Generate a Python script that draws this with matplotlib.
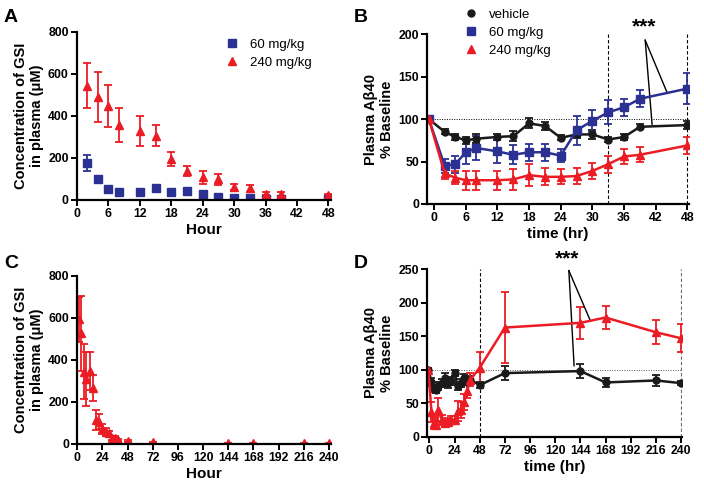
import matplotlib
matplotlib.use("Agg")
import matplotlib.pyplot as plt
from matplotlib.lines import Line2D

plt.rcParams['font.family'] = ['Liberation Sans', 'DejaVu Sans']

# ---------------- data ----------------
a_t = [2, 4, 6, 8, 12, 15, 18, 21, 24, 27, 30, 33, 36, 39, 48]
a60 = [178, 100, 51, 37, 37, 56, 40, 45, 27, 16, 8, 8, 3, 3, 3]
a60_err = [38, 15, 6, 5, 5, 6, 5, 5, 4, 3, 2, 2, 1, 1, 1]
a240 = [545, 490, 448, 358, 330, 307, 196, 138, 108, 98, 62, 56, 30, 29, 24]
a240_err = [108, 120, 100, 80, 72, 48, 32, 25, 30, 28, 14, 16, 8, 8, 5]

b_t = [-1, 2, 4, 6, 8, 12, 15, 18, 21, 24, 27, 30, 33, 36, 39, 48]
b_veh = [100, 85, 79, 75, 77, 79, 80, 95, 92, 78, 82, 82, 76, 79, 91, 93]
b_veh_err = [2, 3, 3, 4, 5, 3, 6, 6, 5, 3, 4, 5, 3, 3, 3, 5]
b60 = [100, 45, 47, 61, 66, 62, 58, 61, 61, 57, 87, 98, 108, 114, 124, 136]
b60_err = [0, 8, 10, 14, 14, 14, 11, 10, 10, 8, 17, 13, 14, 10, 10, 18]
b240 = [100, 36, 31, 28, 28, 28, 29, 34, 32, 32, 33, 39, 47, 56, 58, 69]
b240_err = [0, 7, 8, 11, 11, 11, 12, 13, 10, 9, 9, 9, 10, 9, 9, 10]

c_t = [2, 4, 6, 8, 12, 15, 18, 21, 24, 27, 30, 33, 36, 39, 48, 72, 144, 168, 216, 240]
c240 = [592, 526, 344, 307, 347, 268, 114, 106, 71, 59, 54, 30, 30, 19, 14, 8, 3, 3, 3, 3]
c240_err = [105, 178, 130, 128, 88, 62, 46, 37, 25, 15, 10, 10, 8, 5, 3, 2, 1, 1, 1, 1]

d_t = [-1, 2, 4, 6, 8, 12, 15, 18, 21, 24, 27, 30, 33, 36, 39, 48, 72, 144, 168, 216, 240]
d_veh = [100, 82, 72, 70, 75, 80, 87, 80, 83, 95, 75, 80, 88, 82, 85, 77, 95, 98, 81, 84, 80]
d_veh_err = [2, 6, 5, 5, 6, 6, 8, 7, 6, 5, 5, 6, 5, 5, 5, 5, 10, 11, 7, 8, 3]
d240 = [100, 37, 20, 18, 40, 25, 20, 22, 25, 25, 38, 40, 52, 68, 85, 103, 163, 170, 178, 156, 147]
d240_err = [0, 15, 8, 6, 18, 8, 5, 6, 6, 6, 15, 12, 12, 10, 10, 23, 53, 24, 17, 18, 21]

labels = ['vehicle', '60 mg/kg', '240 mg/kg']
BLUE = '#2b3192'
RED = '#ec1c24'
BLACK = '#1a1a1a'

W, H = 704, 487
fig = plt.figure(figsize=(W / 100, H / 100), dpi=100)

TICK_FS = 8.8
LAB_FS = 10.5
LEG_FS = 9.5


def px_axes(left, top, right, bottom):
    return fig.add_axes([left / W, 1 - bottom / H, (right - left) / W, (bottom - top) / H])


def style(ax):
    for s in ['top', 'right']:
        ax.spines[s].set_visible(False)
    for s in ['left', 'bottom']:
        ax.spines[s].set_linewidth(1.6)
    ax.tick_params(direction='out', length=4, width=1.4, labelsize=TICK_FS, pad=2)
    for lab in ax.get_xticklabels() + ax.get_yticklabels():
        lab.set_fontweight('bold')


ebkw = dict(capsize=3, elinewidth=1.3, capthick=1.3)

# ---------------- A ----------------
axA = px_axes(77, 32, 331, 200)
axA.errorbar(a_t, a60, yerr=a60_err, fmt='s', color=BLUE, ms=5.5, **ebkw)
axA.errorbar(a_t, a240, yerr=a240_err, fmt='^', color=RED, ms=5.5, **ebkw)
axA.set_xlim(0, 48.5)
axA.set_ylim(0, 800)
axA.set_xticks(range(0, 49, 6))
axA.set_yticks(range(0, 801, 200))
axA.set_xlabel('Hour', fontsize=LAB_FS + 0.5, fontweight='bold', labelpad=2)
axA.set_ylabel('Concentration of GSI\nin plasma (μM)', fontsize=LAB_FS, fontweight='bold', labelpad=3)
style(axA)
hA = [Line2D([], [], marker='s', color=BLUE, ls='none', ms=5.5),
      Line2D([], [], marker='^', color=RED, ls='none', ms=5.5)]
axA.legend(hA, labels[1:], frameon=False, fontsize=LEG_FS, loc='upper left',
           bbox_to_anchor=(220 / W, 1 - 33 / H), bbox_transform=fig.transFigure,
           handlelength=1.0, handletextpad=0.9, labelspacing=0.45, borderaxespad=0)

# ---------------- B ----------------
axB = px_axes(427.3, 34.3, 689.0, 204)
axB.axhline(100, color='black', lw=0.7, ls=(0, (1, 1.5)))
axB.plot([33, 33], [0, 202], color='black', lw=0.8, ls=(0, (3, 2)), clip_on=False)
axB.plot([48, 48], [0, 202], color='black', lw=0.8, ls=(0, (3, 2)), clip_on=False)
axB.errorbar(b_t, b_veh, yerr=b_veh_err, fmt='-o', color=BLACK, ms=5, lw=1.8, **ebkw)
axB.errorbar(b_t, b60, yerr=b60_err, fmt='-s', color=BLUE, ms=5.5, lw=1.8, **ebkw)
axB.errorbar(b_t, b240, yerr=b240_err, fmt='-^', color=RED, ms=5.5, lw=1.8, **ebkw)
axB.set_xlim(-1.3, 48.3)
axB.set_ylim(0, 200)
axB.set_xticks(range(0, 49, 6))
axB.set_yticks(range(0, 201, 50))
axB.set_xlabel('time (hr)', fontsize=LAB_FS + 0.5, fontweight='bold', labelpad=2)
axB.set_ylabel('Plasma Aβ40\n% Baseline', fontsize=LAB_FS, fontweight='bold', labelpad=3)
style(axB)
axB.text(39.8, 198, '***', ha='center', va='bottom', fontsize=15, fontweight='bold', clip_on=False)
axB.plot([40, 44.1], [193, 132], color='black', lw=1, clip_on=False)
axB.plot([40, 41.3], [193, 94], color='black', lw=1, clip_on=False)
hB = [Line2D([], [], marker='o', color=BLACK, ls='none', ms=5),
      Line2D([], [], marker='s', color=BLUE, ls='none', ms=5.5),
      Line2D([], [], marker='^', color=RED, ls='none', ms=5.5)]
fig.legend(hB, labels, frameon=False, fontsize=LEG_FS, loc='upper left',
           bbox_to_anchor=(459 / W, 1 - 3 / H), bbox_transform=fig.transFigure,
           handlelength=1.0, handletextpad=0.9, labelspacing=0.45, borderaxespad=0)

# ---------------- C ----------------
axC = px_axes(77.3, 275.7, 331, 444)
axC.errorbar(c_t, c240, yerr=c240_err, fmt='^', color=RED, ms=5.5, **ebkw)
axC.set_xlim(0, 242)
axC.set_ylim(0, 800)
axC.set_xticks(range(0, 241, 24))
axC.set_yticks(range(0, 801, 200))
axC.set_xlabel('Hour', fontsize=LAB_FS + 0.5, fontweight='bold', labelpad=2)
axC.set_ylabel('Concentration of GSI\nin plasma (μM)', fontsize=LAB_FS, fontweight='bold', labelpad=3)
style(axC)

# ---------------- D ----------------
axD = px_axes(427.3, 269.3, 682.1, 436.7)
axD.axhline(100, color='#555555', lw=0.7, ls=(0, (1, 1.5)))
axD.plot([48, 48], [0, 250], color='black', lw=0.8, ls=(0, (3, 2)))
axD.plot([240, 240], [0, 250], color='#666666', lw=0.8, ls=(0, (3, 2)))
axD.errorbar(d_t, d_veh, yerr=d_veh_err, fmt='-o', color=BLACK, ms=5, lw=1.8, **ebkw)
axD.errorbar(d_t, d240, yerr=d240_err, fmt='-^', color=RED, ms=5.5, lw=1.8, **ebkw)
axD.set_xlim(-2, 241)
axD.set_ylim(0, 250)
axD.set_xticks(range(0, 241, 24))
axD.set_yticks(range(0, 251, 50))
axD.set_xlabel('time (hr)', fontsize=LAB_FS + 0.5, fontweight='bold', labelpad=2)
axD.set_ylabel('Plasma Aβ40\n% Baseline', fontsize=LAB_FS, fontweight='bold', labelpad=3)
style(axD)
axD.text(131, 252, '***', ha='center', va='bottom', fontsize=15, fontweight='bold', clip_on=False)
axD.plot([133, 153], [248, 175], color='black', lw=1, clip_on=False)
axD.plot([133, 138], [248, 106], color='black', lw=1, clip_on=False)

# panel letters
for letter, (x, y) in zip('ABCD', [(4, 22), (354, 22), (4, 268), (354, 268)]):
    fig.text(x / W, 1 - y / H, letter, fontsize=14, fontweight='bold', ha='left', va='baseline')

fig.savefig('out.png', dpi=100)
